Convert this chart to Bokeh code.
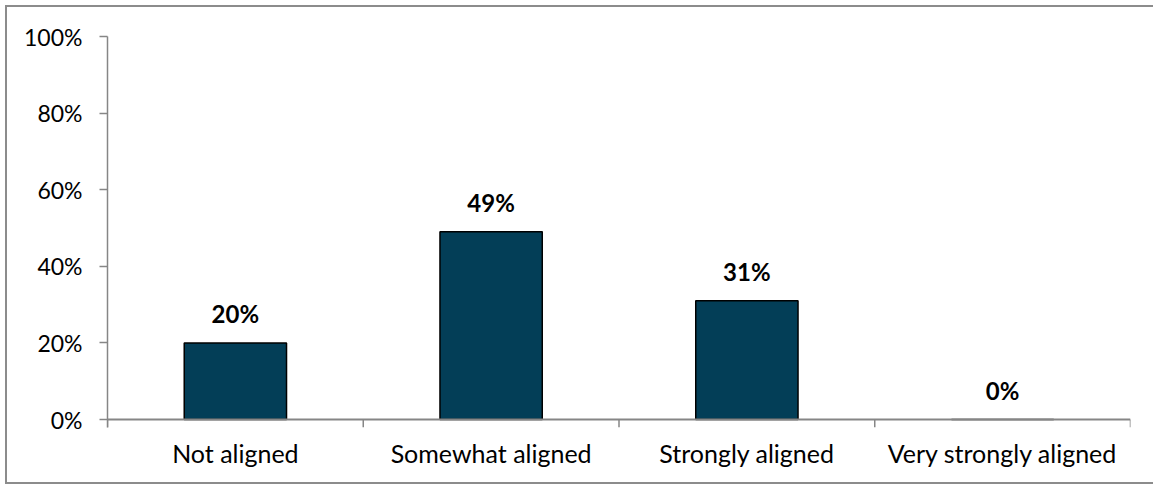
from bokeh.plotting import figure
from bokeh.models import (Range1d, LinearAxis, FixedTicker, Span, InlineStyleSheet,
                          NumeralTickFormatter, ColumnDataSource, LabelSet)
from bokeh.core.properties import value
from bokeh.embed import file_html
from bokeh.resources import INLINE

categories = ["Not aligned", "Somewhat aligned", "Strongly aligned", "Very strongly aligned"]
values = [0.20, 0.49, 0.31, 0.0]
value_labels = ["20%", "49%", "31%", "0%"]
y_ticks = [0, 0.2, 0.4, 0.6, 0.8, 1.0]

FONT = "Lato"
AXIS_COLOR = "#868686"
BORDER_COLOR = "#8C8C8C"

n = len(categories)
centers = [i + 0.5 for i in range(n)]
bounds = list(range(n + 1))

TOP, BOTTOM = 36, 60
W, H = 1153, 487
frame_h = H - TOP - BOTTOM
tick_px = 8
delta = tick_px / (frame_h - tick_px)   # data span of an 8px tick below zero

p = figure(width=W, height=H, x_range=Range1d(0, n),
           y_range=Range1d(-delta, 1), output_backend="svg", toolbar_location=None,
           x_axis_location=None, y_axis_location=None,
           min_border_left=107, min_border_right=23, min_border_top=TOP, min_border_bottom=BOTTOM)
p.outline_line_color = None
p.grid.visible = False
p.background_fill_color = None
p.border_fill_color = None

g = f"linear-gradient({BORDER_COLOR},{BORDER_COLOR})"
css = {
    "background-color": "white",
    "background-image": f"{g}, {g}, {g}",
    "background-size": f"2px 479px, {W}px 2px, {W}px 2px",
    "background-position": "5px 5px, 5px 5px, 5px 482px",
    "background-repeat": "no-repeat",
}
p.styles = css
p.stylesheets = [InlineStyleSheet(css=":host {" + " ".join(f"{k}: {v} !important;" for k, v in css.items()) + "}")]

# category label axis (no line, no ticks)
lab_axis = LinearAxis(ticker=FixedTicker(ticks=centers),
                      major_label_overrides={c: name for c, name in zip(centers, categories)})
lab_axis.axis_line_color = None
lab_axis.major_tick_line_color = None
lab_axis.major_tick_out = 0
lab_axis.major_tick_in = 0
lab_axis.minor_tick_line_color = None
lab_axis.major_label_standoff = 10
lab_axis.major_label_text_font = FONT
lab_axis.major_label_text_font_size = "25px"
lab_axis.major_label_text_color = "black"
p.add_layout(lab_axis, "below")

yaxis = LinearAxis(ticker=FixedTicker(ticks=y_ticks), formatter=NumeralTickFormatter(format="0%"))
yaxis.axis_line_color = AXIS_COLOR
yaxis.axis_line_width = 1.5
yaxis.major_tick_line_color = AXIS_COLOR
yaxis.major_tick_line_width = 1.5
yaxis.major_tick_out = tick_px
yaxis.major_tick_in = 0
yaxis.minor_tick_line_color = None
yaxis.major_label_standoff = 17
yaxis.major_label_text_font = FONT
yaxis.major_label_text_font_size = "23px"
yaxis.major_label_text_color = "black"
p.add_layout(yaxis, "left")

src = ColumnDataSource(dict(x=centers, val=values, lab=value_labels))
p.vbar(x="x", top="val", width=0.40, source=src, fill_color="#033E57",
       line_color="black", line_width=1.5)

# category boundary ticks hanging below the x axis line
p.segment(x0=bounds, y0=[0] * len(bounds), x1=bounds, y1=[-delta] * len(bounds),
          line_color=AXIS_COLOR, line_width=1.5)
p.add_layout(Span(location=0, dimension="width", line_color=AXIS_COLOR, line_width=2))

labels = LabelSet(x="x", y="val", text="lab", source=src, text_align="center",
                  text_baseline="bottom", y_offset=15, text_font=value(FONT),
                  text_font_size=value("24px"), text_font_style=value("bold"),
                  text_color=value("black"))
p.add_layout(labels)

open("out.html", "w").write(file_html(p, INLINE))
